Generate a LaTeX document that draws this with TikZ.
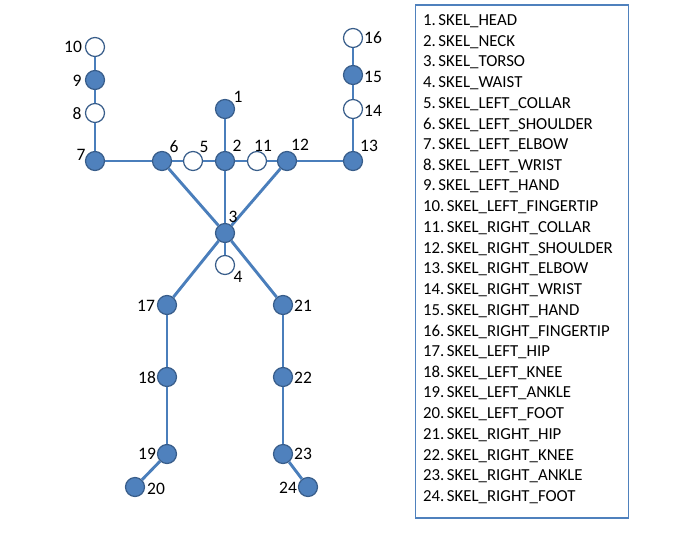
\documentclass[tikz,border=0pt]{standalone}
\usepackage{fontspec}
\setmainfont{Carlito}
\usepackage{xcolor}
\usepackage{tikz}
\usetikzlibrary{positioning, calc}

\definecolor{jointblue}{HTML}{4F81BD}
\definecolor{rimblue}{HTML}{385D8A}
\definecolor{bonecol}{HTML}{4A7EBB}

\tikzset{
	joint/.style={circle, draw=rimblue, line width=1.2pt, fill=jointblue, minimum size=19pt, inner sep=0pt},
	hollow/.style={circle, draw=rimblue, line width=1.2pt, fill=white, minimum size=19pt, inner sep=0pt},
	bone/.style={draw=bonecol, line width=2.9pt},
	num/.style={font=\fontsize{17.5}{20}\selectfont, inner sep=0pt},
	item/.style={anchor=west, font=\fontsize{16.8}{20}\selectfont, inner sep=0pt},
	listbox/.style={draw=jointblue, line width=1.2pt, minimum width=213pt, minimum height=513pt, inner sep=0pt}
}

\begin{document}
\begin{tikzpicture}[x=1pt, y=-1pt]
	\useasboundingbox (0,0) rectangle (682,533);
	
	% Joints of the skeleton
	\foreach \id/\x/\y/\kind in {1/225/109/joint, 2/225/161/joint, 3/225/233/joint, 4/225/265/hollow,
		5/193/161/hollow, 6/162/161/joint, 7/95/161/joint, 8/95/113/hollow, 9/95/80/joint, 10/95/47/hollow,
		11/257/161/hollow, 12/287/161/joint, 13/353/161/joint, 14/353/109/hollow, 15/353/75/joint, 16/353/38/hollow,
		17/167/305/joint, 18/167/377/joint, 19/167/454/joint, 20/135/487/joint,
		21/283/305/joint, 22/283/377/joint, 23/283/454/joint, 24/308/487/joint} {
		\node[\kind] (j\id) at (\x,\y) {};
	}
	
	% Bones between the joints
	\foreach \a/\b in {10/9, 9/8, 8/7, 7/6, 6/5, 5/2, 2/11, 11/12, 12/13, 13/14, 14/15, 15/16,
		1/2, 2/3, 3/4, 6/3, 12/3, 3/17, 3/21, 17/18, 18/19, 19/20, 21/22, 22/23, 23/24} {
		\draw[bone] (j\a) -- (j\b);
	}
	
	% Joint numbers
	\foreach \id/\x/\y in {1/238/97, 2/237/146, 3/233/217, 4/238/277, 5/204/147, 6/174/147,
		7/81/155, 8/77/114, 9/77/81, 10/73/47, 11/263/146, 12/300/145, 13/369/146,
		14/373/111, 15/373/77, 16/373/38, 17/146/306, 18/147/378, 19/147/454, 20/156/489,
		21/303/306, 22/303/378, 23/303/454, 24/288/488} {
		\node[num] (l\id) at (\x,\y) {\id};
	}
	
	% Legend box
	\node[listbox] (box) at (522,261.5) {};
	\foreach \i/\name in {1/HEAD, 2/NECK, 3/TORSO, 4/WAIST, 5/LEFT\_COLLAR, 6/LEFT\_SHOULDER,
		7/LEFT\_ELBOW, 8/LEFT\_WRIST, 9/LEFT\_HAND, 10/LEFT\_FINGERTIP, 11/RIGHT\_COLLAR,
		12/RIGHT\_SHOULDER, 13/RIGHT\_ELBOW, 14/RIGHT\_WRIST, 15/RIGHT\_HAND, 16/RIGHT\_FINGERTIP,
		17/LEFT\_HIP, 18/LEFT\_KNEE, 19/LEFT\_ANKLE, 20/LEFT\_FOOT, 21/RIGHT\_HIP,
		22/RIGHT\_KNEE, 23/RIGHT\_ANKLE, 24/RIGHT\_FOOT} {
		\node[item] (t\i) at (423, {21+20.7*(\i-1)}) {\i.\hspace{0.15em}SKEL\_\name};
	}
	
\end{tikzpicture}
\end{document}
